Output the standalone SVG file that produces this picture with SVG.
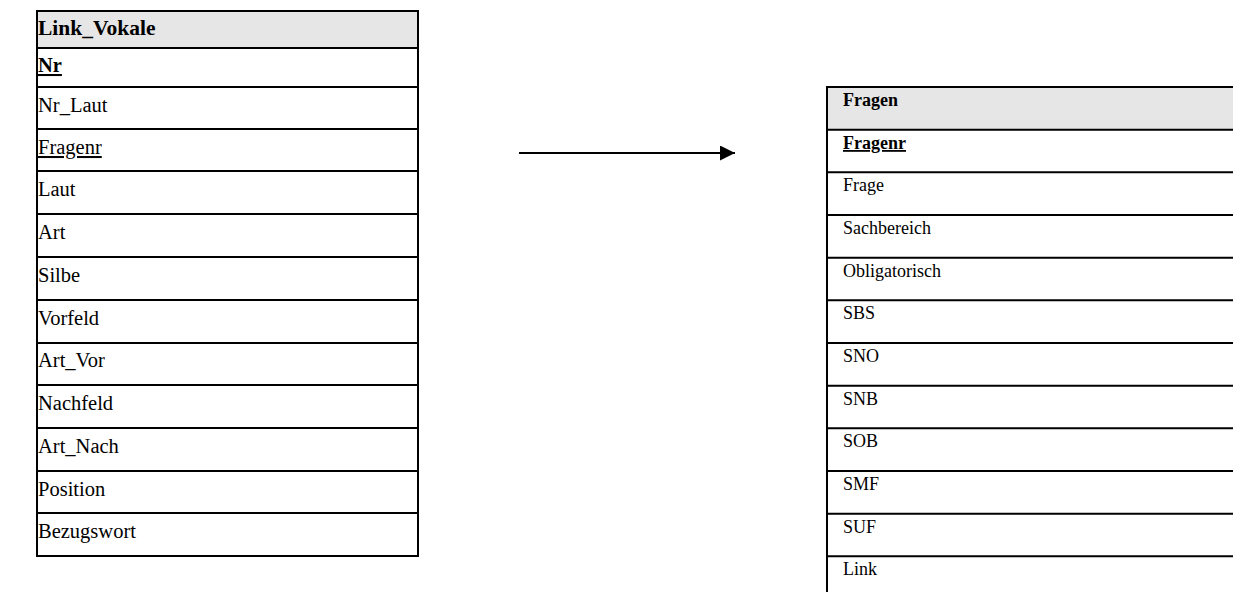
<svg xmlns="http://www.w3.org/2000/svg" width="1233" height="592" viewBox="0 0 1233 592">
<defs>
<style>
.hdr{fill:#e6e6e6}
.ln{stroke:#000;stroke-width:2;fill:none}
.t1{font-family:"Liberation Serif","Times New Roman",serif;font-size:20.5px;fill:#000}
.t2{font-family:"Liberation Serif","Times New Roman",serif;font-size:18px;fill:#000}
.b{font-weight:bold}
.u{text-decoration:underline}
</style>
<marker id="ah" viewBox="0 0 10 10" refX="10" refY="5" markerWidth="7.5" markerHeight="7.5" markerUnits="strokeWidth" orient="auto">
<path d="M0,0 L10,5 L0,10 z" fill="#000"/>
</marker>
</defs>
<rect width="1233" height="592" fill="#fff"/>
<g id="link_vokale">
<rect class="hdr" x="37" y="11" width="381" height="37"/>
<rect class="ln" x="37" y="11" width="381" height="545"/>
<path class="ln" d="M37,48H418M37,87H418M37,129H418M37,171H418M37,214H418M37,257H418M37,300H418M37,343H418M37,385H418M37,428H418M37,471H418M37,513H418"/>
<text class="t1 b" x="38" y="35" style="font-size:21.5px">Link_Vokale</text>
<text class="t1 b u" x="38" y="72">Nr</text>
<text class="t1" x="38" y="112">Nr_Laut</text>
<text class="t1 u" x="38" y="154">Fragenr</text>
<text class="t1" x="38" y="196">Laut</text>
<text class="t1" x="38" y="239">Art</text>
<text class="t1" x="38" y="282">Silbe</text>
<text class="t1" x="38" y="325">Vorfeld</text>
<text class="t1" x="38" y="367">Art_Vor</text>
<text class="t1" x="38" y="410">Nachfeld</text>
<text class="t1" x="38" y="453">Art_Nach</text>
<text class="t1" x="38" y="496">Position</text>
<text class="t1" x="38" y="538">Bezugswort</text>
</g>
<g id="fragen">
<rect class="hdr" x="827" y="87" width="410" height="42.7"/>
<path class="ln" d="M1240,87H827V600"/>
<path class="ln" d="M827,129.7H1240M827,172.3H1240M827,215H1240M827,257.7H1240M827,300.3H1240M827,343H1240M827,385.7H1240M827,428.3H1240M827,471H1240M827,513.7H1240M827,556.3H1240"/>
<text class="t2 b" x="843" y="106">Fragen</text>
<text class="t2 b u" x="843" y="149">Fragenr</text>
<text class="t2" x="843" y="191">Frage</text>
<text class="t2" x="843" y="234">Sachbereich</text>
<text class="t2" x="843" y="277">Obligatorisch</text>
<text class="t2" x="843" y="319">SBS</text>
<text class="t2" x="843" y="362">SNO</text>
<text class="t2" x="843" y="405">SNB</text>
<text class="t2" x="843" y="447">SOB</text>
<text class="t2" x="843" y="490">SMF</text>
<text class="t2" x="843" y="533">SUF</text>
<text class="t2" x="843" y="575">Link</text>
</g>
<g id="connectors">
<line class="ln" x1="519" y1="153" x2="735" y2="153" marker-end="url(#ah)"/>
</g>
</svg>
